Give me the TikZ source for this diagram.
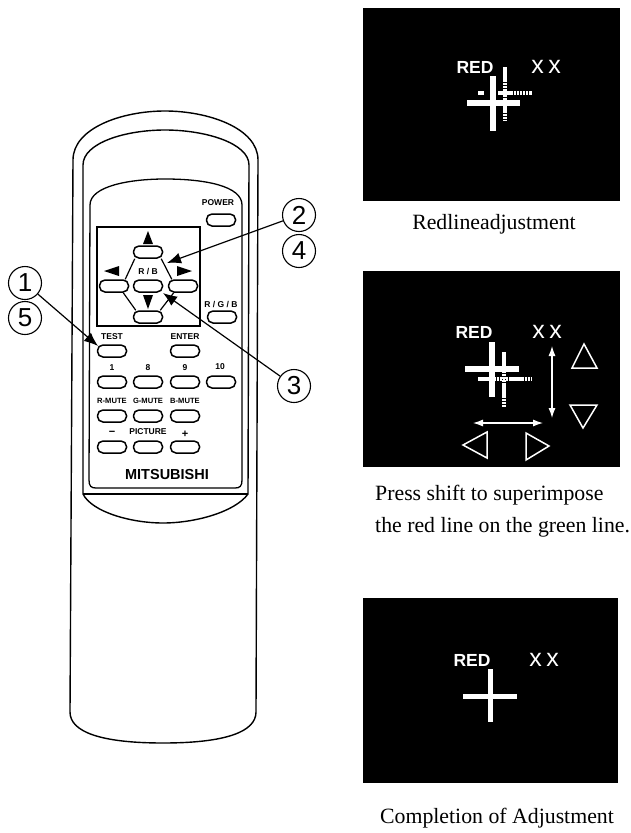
\documentclass[tikz,border=0pt]{standalone}
\usepackage{fontspec}
\setmainfont{Liberation Sans}
\newfontfamily\capfont{Liberation Serif}
\usetikzlibrary{arrows.meta}
\newcommand{\crossmarks}{x\kern4.5pt x}
\tikzset{
  body/.style={line width=1.4pt,black},
  btn/.style={draw=black,line width=1.5pt,fill=white,rectangle,rounded corners=5.5pt,minimum width=29pt,minimum height=12pt,inner sep=0pt},
  lab/.style={inner sep=0pt,font=\fontsize{8.5}{9}\selectfont\bfseries},
  mute/.style={inner sep=0pt,font=\fontsize{7.6}{9}\selectfont\bfseries},
  num/.style={draw=black,line width=1.1pt,circle,minimum size=33pt,inner sep=0pt,font=\fontsize{26}{28}\selectfont},
  pointer/.style={line width=1.2pt,-{Latex[length=14pt,width=11pt]}},
  screen/.style={fill=black,draw=none},
  red/.style={inner sep=0pt,text=white,font=\fontsize{17.5}{18}\selectfont\bfseries},
  xx/.style={inner sep=0pt,text=white,font=\fontsize{25}{26}\selectfont},
  solidcross/.style={white,line width=5.5pt},
  dotcross/.style={white,line width=4.5pt,dash pattern=on 2.5pt off 0.6pt},
  wtri/.style={white,line width=1.5pt,line join=miter},
  warrow/.style={white,line width=1.1pt,{Latex[length=10pt,width=7pt]}-{Latex[length=10pt,width=7pt]}},
  caption/.style={inner sep=0pt,font=\capfont\fontsize{21.8}{24}\selectfont},
  key/.style={fill=black,draw=none}
}
\begin{document}
\begin{tikzpicture}[x=1pt,y=-1pt]
\useasboundingbox (0,0) rectangle (631,833);
% remote body
\draw[body] (73,160) .. controls (73,128) and (122,111) .. (165,111) .. controls (208,111) and (258,128) .. (258,160)
  -- (256,712) .. controls (256,732) and (225,743) .. (163,743) .. controls (101,743) and (70,732) .. (70,712) -- cycle;
\draw[body] (83,494) -- (83,165) .. controls (83,143) and (125,130) .. (165,130) .. controls (205,130) and (249,143) .. (249,165) -- (248,494)
  .. controls (235,512) and (195,523) .. (163,523) .. controls (131,523) and (92,512) .. (83,494) -- cycle;
\draw[body] (83,494) -- (248,494);
\draw[body,line width=1.3pt] (90,205) .. controls (90,186) and (130,179) .. (165,179) .. controls (205,179) and (242,186) .. (242,205)
  -- (242,480) .. controls (242,486) and (240,488) .. (235,488) -- (96,488) .. controls (91,488) and (89,486) .. (89,480) -- cycle;
\node[draw=black,line width=1.1pt,minimum width=103pt,minimum height=99pt,inner sep=0pt] (pad) at (148.5,276.5) {};
% buttons
\node[btn] (up) at (148,252) {};
\node[btn] (left) at (114,286) {};
\node[btn] (mid) at (148,286) {};
\node[btn] (right) at (183,286) {};
\node[btn] (down) at (148,317) {};
\node[btn] (power) at (221,220) {};
\node[btn] (rgb) at (222,317) {};
\node[btn] (test) at (112,351) {};
\node[btn] (enter) at (185,351) {};
\node[btn] (b1) at (112,382) {};
\node[btn] (b8) at (148,382) {};
\node[btn] (b9) at (185,382) {};
\node[btn] (b10) at (221,382) {};
\node[btn] (rm) at (112,416) {};
\node[btn] (gm) at (148,416) {};
\node[btn] (bm) at (185,416) {};
\node[btn] (minus) at (112,447) {};
\node[btn] (pict) at (148,447) {};
\node[btn] (plus) at (185,447) {};
\draw[line width=1.2pt] ([xshift=2pt]up.south west) -- ([xshift=-4pt]left.north east);
\draw[line width=1.2pt] ([xshift=-2pt]up.south east) -- ([xshift=4pt]right.north west);
\draw[line width=1.2pt] ([xshift=-6pt]left.south east) -- ([xshift=3pt]down.north west);
\draw[line width=1.2pt] ([xshift=6pt]right.south west) -- ([xshift=-3pt]down.north east);
% key marks
\fill[key] (148,231) -- (143,244) -- (153,244) -- cycle;
\fill[key] (104,271) -- (119,266) -- (119,276) -- cycle;
\fill[key] (192,271) -- (177,266) -- (177,276) -- cycle;
\fill[key] (148,309) -- (143,295) -- (153,295) -- cycle;
% labels
\node[lab] (tpower) at (218,203) {POWER};
\node[lab] (trb) at (148,272) {R / B};
\node[lab] (trgb) at (221,304) {R / G / B};
\node[lab] (ttest) at (112,337) {TEST};
\node[lab] (tenter) at (185,337) {ENTER};
\node[lab] (t1) at (112,368) {1};
\node[lab] (t8) at (148,368) {8};
\node[lab] (t9) at (185,368) {9};
\node[lab] (t10) at (220,367) {10};
\node[mute] (trm) at (112,401) {R-MUTE};
\node[mute] (tgm) at (148,401) {G-MUTE};
\node[mute] (tbm) at (185,401) {B-MUTE};
\node[lab] (tminus) at (112,433) {\fontsize{11}{11}\selectfont −};
\node[lab] (tpict) at (148,432) {PICTURE};
\node[lab] (tplus) at (185,434) {\fontsize{11}{11}\selectfont +};
\node[inner sep=0pt,font=\fontsize{14.5}{15}\selectfont\bfseries] (brand) at (167,475) {MITSUBISHI};
% callouts
\node[num] (n1) at (25,283) {1};
\node[num] (n5) at (25,318) {5};
\node[num] (n2) at (299,215) {2};
\node[num] (n4) at (299,251) {4};
\node[num] (n3) at (294,386) {3};
\coordinate (a1) at (98,346);
\coordinate (a2) at (167,263);
\coordinate (a3) at (163,293);
\draw[pointer] (n1) -- (a1);
\draw[pointer] (n2) -- (a2);
\draw[pointer] (n3) -- (a3);
% screen 1
\fill[screen] (363,8) rectangle (620,201);
\node[red] (r1) at (475,67) {RED};
\node[xx] (x1) at (546,67) {\crossmarks};
\draw[solidcross] (467,103) -- (520,103);
\draw[solidcross] (493,76) -- (493,131);
\draw[dotcross] (505,67) -- (505,120);
\draw[dotcross] (478,93) -- (484,93);
\draw[dotcross] (498,93) -- (532,93);
% screen 2
\fill[screen] (363,271) rectangle (620,467);
\node[red] (r2) at (474,332) {RED};
\node[xx] (x2) at (547,332) {\crossmarks};
\draw[solidcross] (465,369) -- (519,369);
\draw[solidcross] (492,342) -- (492,397);
\draw[dotcross,line width=3.5pt] (478,379) -- (531,379);
\draw[dotcross] (504,352) -- (504,407);
\coordinate (v1) at (552,346);
\coordinate (v2) at (552,418);
\coordinate (h1) at (473,423);
\coordinate (h2) at (543,423);
\draw[warrow] (v1) -- (v2);
\draw[warrow] (h1) -- (h2);
\draw[wtri] (463,445) -- (487,432) -- (487,458) -- cycle;
\draw[wtri] (526,433) -- (549,446) -- (526,460) -- cycle;
\draw[wtri] (584,344) -- (572,368) -- (597,368) -- cycle;
\draw[wtri] (570,405) -- (597,405) -- (583,428) -- cycle;
% screen 3
\fill[screen] (363,598) rectangle (618,783);
\node[red] (r3) at (472,660) {RED};
\node[xx] (x3) at (544,660) {\crossmarks};
\draw[solidcross,line width=5pt] (463,696) -- (517,696);
\draw[solidcross,line width=5pt] (490,669) -- (490,722);
% captions
\node[caption,anchor=base] (c1) at (494,229) {Redlineadjustment};
\node[caption,anchor=base west] (c2) at (375,500) {Press shift to superimpose};
\node[caption,anchor=base west] (c3) at (375,532) {the red line on the green line.};
\node[caption,anchor=base] (c4) at (497,823) {Completion of Adjustment};
\end{tikzpicture}
\end{document}
